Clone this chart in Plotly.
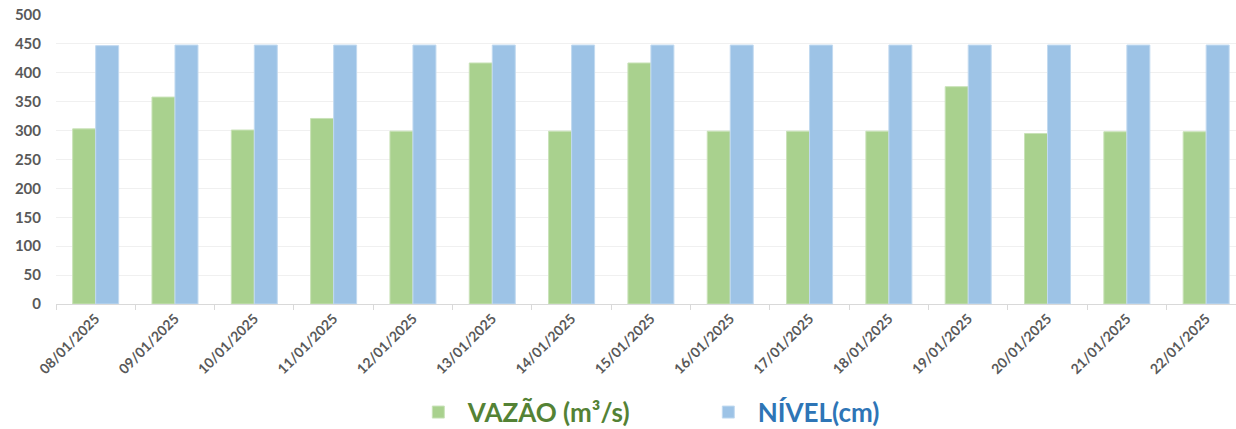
import plotly.graph_objects as go

datas = ["08/01/2025", "09/01/2025", "10/01/2025", "11/01/2025", "12/01/2025",
         "13/01/2025", "14/01/2025", "15/01/2025", "16/01/2025", "17/01/2025",
         "18/01/2025", "19/01/2025", "20/01/2025", "21/01/2025", "22/01/2025"]
vazao = [303, 358, 301, 321, 299, 417, 299, 417, 299, 299, 299, 376, 295, 298, 298]
nivel = [447, 448, 448, 448, 448, 448, 448, 448, 448, 448, 448, 448, 448, 448, 448]
y_ticks = [0, 50, 100, 150, 200, 250, 300, 350, 400, 450, 500]

FONT = "Lato"
GRAY = "#595959"

fig = go.Figure()
fig.add_trace(go.Bar(
    x=datas, y=vazao,
    name="<span style='color:#548235'><b>VAZÃO (m³/s)</b></span>",
    marker=dict(color="#A9D18E", line=dict(color="#C9E2B8", width=1)),
))
fig.add_trace(go.Bar(
    x=datas, y=nivel,
    name="<span style='color:#2E75B6'><b>NÍVEL(cm)</b></span>",
    marker=dict(color="#9DC3E6", line=dict(color="#C2DAF0", width=1)),
))

fig.update_layout(
    width=1236, height=429,
    margin=dict(l=56, r=0, t=15, b=125, autoexpand=False),
    paper_bgcolor="white", plot_bgcolor="white",
    barmode="group", bargap=0.42, bargroupgap=0,
    font=dict(family=FONT, color=GRAY),
    showlegend=True,
    legend=dict(
        orientation="h", x=0.299, xanchor="left",
        yref="container", y=0.094, yanchor="top",
        font=dict(family=FONT, size=26),
        itemwidth=49, entrywidth=226, traceorder="normal",
    ),
    xaxis=dict(
        type="category", range=[-0.5, 14.376],
        tickangle=-45, tickfont=dict(family=FONT, size=14, color=GRAY, weight="bold"),
        showline=True, linecolor="#D9D9D9", linewidth=1,
        ticks="outside", tickson="boundaries", ticklen=5, tickcolor="#D9D9D9",
        showgrid=False,
    ),
    yaxis=dict(
        range=[0, 500], tickvals=y_ticks,
        tickfont=dict(family=FONT, size=15, color=GRAY, weight="bold"),
        showgrid=True, gridcolor="#F0F0F0", gridwidth=1,
        zeroline=False, ticklabelstandoff=14, showline=False,
    ),
)

fig.write_html("out.html")
